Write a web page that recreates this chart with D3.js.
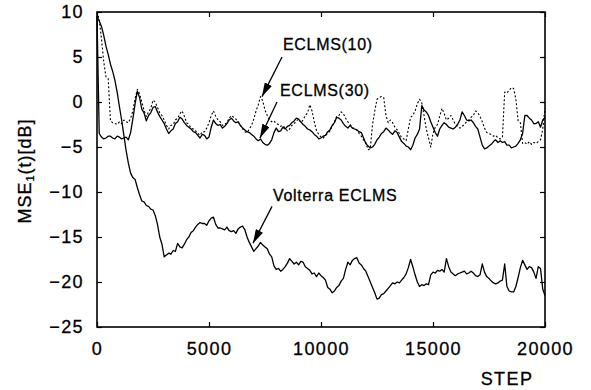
<!DOCTYPE html>
<html>
<head>
<meta charset="utf-8">
<script src="https://cdn.jsdelivr.net/npm/d3@7/dist/d3.min.js"></script>
<style>
body { margin: 0; background: #fff; }
text { font-family: "Liberation Sans", Arial, sans-serif; fill: #000; stroke: #000; stroke-width: 0.3px; }
</style>
</head>
<body>
<div class="chartfield"></div>
<script>
// step positions of the samples (every 100 steps)
var steps = d3.range(0, 20001, 100);

var volterra = [9.5, 9.0, 8.4, 7.4, 6.2, 5.3, 4.2, 3.4, 2.4, 1.1, -0.5, -2.0, -3.7, -5.4, -6.8, -7.9, -8.4, -8.6, -9.5, -10.3,
	-11.0, -11.1, -11.5, -11.6, -11.9, -12.0, -12.6, -13.6, -15.0, -15.8, -17.2, -17.0, -16.8, -16.9, -16.5, -16.6, -15.7, -16.1, -16.2, -15.8,
	-15.3, -15.0, -14.5, -14.3, -13.9, -13.6, -13.4, -13.5, -13.5, -13.7, -13.2, -12.9, -12.8, -13.6, -14.0, -14.0, -14.1, -14.2, -13.9, -14.3,
	-14.4, -14.3, -14.6, -14.1, -13.9, -13.8, -14.2, -15.0, -15.6, -16.1, -16.6, -16.3, -16.0, -15.6, -15.9, -16.1, -16.3, -16.9, -17.2, -18.2,
	-18.6, -18.5, -18.8, -18.6, -18.3, -17.9, -17.4, -17.7, -18.0, -17.8, -18.1, -17.7, -17.8, -18.3, -18.5, -18.7, -19.1, -19.0, -19.4, -19.0,
	-19.3, -19.5, -19.8, -20.6, -20.8, -21.2, -21.0, -20.6, -20.4, -19.9, -19.6, -18.6, -17.8, -18.1, -17.6, -17.4, -17.3, -17.9, -18.1, -18.5,
	-18.8, -19.4, -20.0, -20.6, -21.2, -21.9, -21.8, -21.4, -21.3, -21.0, -20.7, -20.4, -20.1, -20.2, -20.0, -20.1, -19.8, -19.5, -19.1, -18.4,
	-17.5, -18.3, -19.2, -20.0, -20.5, -20.3, -20.4, -20.2, -20.3, -19.2, -18.9, -19.0, -18.7, -18.8, -18.6, -18.9, -17.4, -18.3, -18.9, -19.1,
	-19.3, -19.1, -19.0, -18.9, -18.8, -19.1, -19.0, -18.8, -19.0, -19.3, -19.4, -19.2, -18.0, -18.9, -19.4, -19.6, -19.9, -20.1, -20.2, -20.1,
	-19.9, -19.8, -18.0, -20.5, -21.0, -21.1, -21.1, -20.5, -19.5, -18.4, -17.6, -18.1, -18.6, -18.3, -18.4, -18.9, -19.6, -18.3, -18.5, -20.8,
	-21.5];

var eclms30 = [9.5, -3.5, -3.9, -4.1, -4.0, -3.8, -3.8, -4.0, -4.1, -3.8, -3.9, -4.1, -4.0, -3.9, -4.2, -3.4, -1.9, -0.2, 1.2, 0.5,
	-0.8, -1.2, -2.1, -1.5, -1.2, -0.6, -0.5, -1.1, -1.6, -2.0, -2.4, -3.0, -3.5, -3.2, -3.0, -2.4, -2.2, -1.7, -1.9, -2.3,
	-2.6, -2.8, -3.0, -3.3, -3.4, -3.7, -4.0, -3.6, -3.7, -4.1, -3.9, -2.8, -2.0, -2.4, -2.6, -2.5, -2.9, -2.7, -2.4, -2.0,
	-1.8, -2.1, -2.3, -2.2, -2.6, -2.9, -3.1, -3.3, -3.4, -3.6, -3.8, -4.1, -4.3, -4.1, -4.5, -4.7, -4.8, -4.6, -4.2, -3.4,
	-2.9, -3.3, -3.2, -2.8, -3.0, -2.7, -2.6, -2.3, -2.1, -1.8, -1.9, -2.2, -2.5, -2.7, -3.0, -3.1, -3.3, -3.6, -3.8, -4.1,
	-4.0, -3.8, -3.7, -3.3, -3.1, -2.6, -2.3, -1.7, -1.8, -2.0, -2.4, -2.7, -2.9, -2.6, -2.9, -3.0, -3.1, -3.3, -3.4, -4.0,
	-4.6, -4.9, -5.1, -5.0, -4.7, -4.2, -3.9, -3.5, -3.3, -2.9, -3.1, -3.4, -3.6, -3.2, -3.4, -3.9, -4.4, -4.6, -4.9, -5.0,
	-5.3, -4.8, -4.0, -3.6, -3.0, -0.4, -0.9, -1.1, -1.5, -2.2, -2.8, -3.4, -3.8, -3.0, -2.6, -2.3, -2.5, -2.8, -2.9, -3.0,
	-2.8, -2.5, -2.0, -1.1, -1.5, -2.0, -2.1, -2.0, -2.3, -2.7, -3.0, -3.9, -4.8, -5.2, -5.1, -4.9, -4.7, -4.4, -4.2, -4.5,
	-4.3, -4.5, -4.4, -4.8, -4.8, -5.1, -5.0, -4.9, -4.6, -4.2, -3.5, -1.5, -1.5, -1.8, -2.0, -2.4, -2.4, -2.2, -2.8, -2.0,
	-1.7];

var eclms10 = [10.0, 9.2, 7.0, 4.5, 2.8, 2.6, -2.1, -2.3, -2.4, -2.5, -2.2, -2.4, -2.0, -2.2, -2.3, -1.8, -1.0, 0.4, 1.4, 0.9,
	0.0, -0.9, -1.6, -1.1, -0.7, 0.2, 0.0, -0.6, -1.2, -1.5, -2.0, -2.6, -3.0, -2.6, -2.5, -2.0, -1.8, -1.3, -1.0, -1.6,
	-2.3, -2.5, -2.9, -3.0, -3.2, -3.5, -3.7, -3.3, -3.3, -2.9, -2.3, -1.5, -1.0, -1.6, -2.0, -2.2, -2.6, -2.5, -2.3, -1.8,
	-1.5, -1.7, -1.9, -2.2, -2.6, -3.0, -3.3, -3.4, -3.0, -2.6, -1.9, -1.0, -0.3, 0.6, 0.1, -0.9, -1.5, -2.0, -2.2, -2.1,
	-2.4, -2.5, -2.7, -2.6, -2.9, -3.2, -3.0, -2.6, -2.4, -2.1, -1.9, -2.3, -2.0, -1.5, -1.2, -0.3, -1.0, -2.2, -3.2, -3.6,
	-3.9, -4.0, -3.7, -3.5, -3.2, -2.7, -2.2, -1.6, -1.5, -1.1, -1.3, -1.8, -2.2, -2.5, -2.8, -3.0, -3.1, -3.5, -3.8, -4.2,
	-4.5, -5.3, -5.2, -2.5, -1.0, 0.3, 0.5, 0.6, 0.5, -1.5, -2.3, -2.0, -2.3, -2.8, -3.1, -3.5, -4.0, -4.1, -4.3, -3.0,
	-1.7, -1.5, -1.0, -0.2, 0.3, -0.1, -1.5, -3.0, -4.0, -5.0, -3.5, -2.8, -2.5, -1.6, -0.7, -1.3, -2.0, -1.8, -1.5, -2.0,
	-2.5, -2.7, -2.9, -2.7, -2.5, -2.2, -2.0, -1.7, -1.5, -1.0, -1.2, -1.6, -2.2, -2.9, -3.4, -3.5, -3.6, -3.8, -3.7, -4.0,
	-4.1, -3.9, 1.1, 1.0, 1.3, 1.6, 1.5, 0.3, -2.1, -2.3, -4.6, -4.5, -4.7, -4.4, -4.7, -4.5, -4.6, -4.4, -4.2, -3.0,
	-0.7];

var xTicks = [0, 5000, 10000, 15000, 20000];
var yTicks = [10, 5, 0, -5, -10, -15, -20, -25];

// label text, label position, arrow start, arrow tip (step, dB)
var noteText = ["ECLMS(10)", "ECLMS(30)", "Volterra ECLMS"];
var noteAt = [[8300, 5.8], [8170, 0.7], [7857, -11.0]];
var arrowFrom = [[8260, 5.0], [8036, 0.0], [7813, -11.6]];
var arrowTo = [[7366, 0.6], [7277, -4.0], [6964, -15.7]];

var width = 591;
var height = 390;
var margin = {top: 12, right: 46, bottom: 63, left: 97};
var svg, plot, x, y;

function svginit() {
	svg = d3.select(".chartfield")
	.append("svg")
	.attr("width", width)
	.attr("height", height);

	svg.append("defs").append("marker")
	.attr("id", "arrow")
	.attr("markerUnits", "userSpaceOnUse")
	.attr("markerWidth", 14)
	.attr("markerHeight", 8)
	.attr("viewBox", "0 0 14 8")
	.attr("refX", 14)
	.attr("refY", 4)
	.attr("orient", "auto")
	.append("path")
	.attr("d", "M0,0 L14,4 L0,8 Z")
	.attr("fill", "#000");

	x = d3.scaleLinear().domain([0, 20000]).range([margin.left, width - margin.right]);
	y = d3.scaleLinear().domain([-25, 10]).range([height - margin.bottom, margin.top]);
	plot = svg.append("g");
}

function drawAxes() {
	var fs = "18px";
	var ls = "1.4px";
	var bottom = svg.append("g")
	.attr("transform", "translate(0," + y(-25) + ")")
	.call(d3.axisBottom(x).tickValues(xTicks).tickSize(-5).tickPadding(15).tickFormat(d3.format("d")));
	var top = svg.append("g")
	.attr("transform", "translate(0," + y(10) + ")")
	.call(d3.axisTop(x).tickValues(xTicks).tickSize(-5).tickFormat(""));
	var left = svg.append("g")
	.attr("transform", "translate(" + x(0) + ",0)")
	.call(d3.axisLeft(y).tickValues(yTicks).tickSize(-5).tickPadding(13).tickFormat(d3.format("d")));
	var right = svg.append("g")
	.attr("transform", "translate(" + x(20000) + ",0)")
	.call(d3.axisRight(y).tickValues(yTicks).tickSize(-5).tickFormat(""));

	[bottom, top, left, right].forEach(function(g) {
		g.select(".domain").remove();
		g.selectAll("line").attr("stroke", "#000").attr("stroke-width", 1.2);
		g.selectAll("text")
		.style("font-size", fs)
		.style("letter-spacing", ls)
		.attr("fill", "#000");
	});

	svg.append("rect")
	.attr("x", x(0))
	.attr("y", y(10))
	.attr("width", x(20000) - x(0))
	.attr("height", y(-25) - y(10))
	.attr("fill", "none")
	.attr("stroke", "#000")
	.attr("stroke-width", 1.6);

	svg.append("text")
	.attr("x", 507)
	.attr("y", 385)
	.attr("text-anchor", "middle")
	.style("font-size", fs)
	.style("letter-spacing", ls)
	.text("STEP");

	var yl = svg.append("text")
	.attr("transform", "translate(31,171) rotate(-90)")
	.attr("text-anchor", "middle")
	.style("font-size", fs)
	.style("letter-spacing", "1px");
	yl.append("tspan").text("MSE");
	yl.append("tspan").style("font-size", "11px").attr("dy", 3).text("1");
	yl.append("tspan").attr("dy", -3).text("(t)[dB]");
}

function drawLines() {
	var line = d3.line()
	.x(function(d) { return x(d[0]); })
	.y(function(d) { return y(d[1]); });

	var series = [
		{vals: eclms10, dash: "2,2", w: 1.1},
		{vals: eclms30, dash: null, w: 1.3},
		{vals: volterra, dash: null, w: 1.3}
	];
	plot.selectAll("path.series")
	.data(series)
	.enter().append("path")
	.attr("class", "series")
	.attr("d", function(s) { return line(d3.zip(steps, s.vals)); })
	.attr("fill", "none")
	.attr("stroke", "#000")
	.attr("stroke-width", function(s) { return s.w; })
	.attr("stroke-dasharray", function(s) { return s.dash; })
	.attr("stroke-linejoin", "round");
}

function drawNotes() {
	var idx = d3.range(noteText.length);
	plot.selectAll("line.arrow")
	.data(idx)
	.enter().append("line")
	.attr("class", "arrow")
	.attr("x1", function(i) { return x(arrowFrom[i][0]); })
	.attr("y1", function(i) { return y(arrowFrom[i][1]); })
	.attr("x2", function(i) { return x(arrowTo[i][0]); })
	.attr("y2", function(i) { return y(arrowTo[i][1]); })
	.attr("stroke", "#000")
	.attr("stroke-width", 1.3)
	.attr("marker-end", "url(#arrow)");

	plot.selectAll("text.note")
	.data(idx)
	.enter().append("text")
	.attr("class", "note")
	.attr("x", function(i) { return x(noteAt[i][0]); })
	.attr("y", function(i) { return y(noteAt[i][1]); })
	.style("font-size", "16px")
	.style("letter-spacing", "0.7px")
	.text(function(i) { return noteText[i]; });
}

svginit();
drawLines();
drawNotes();
drawAxes();
</script>
</body>
</html>
